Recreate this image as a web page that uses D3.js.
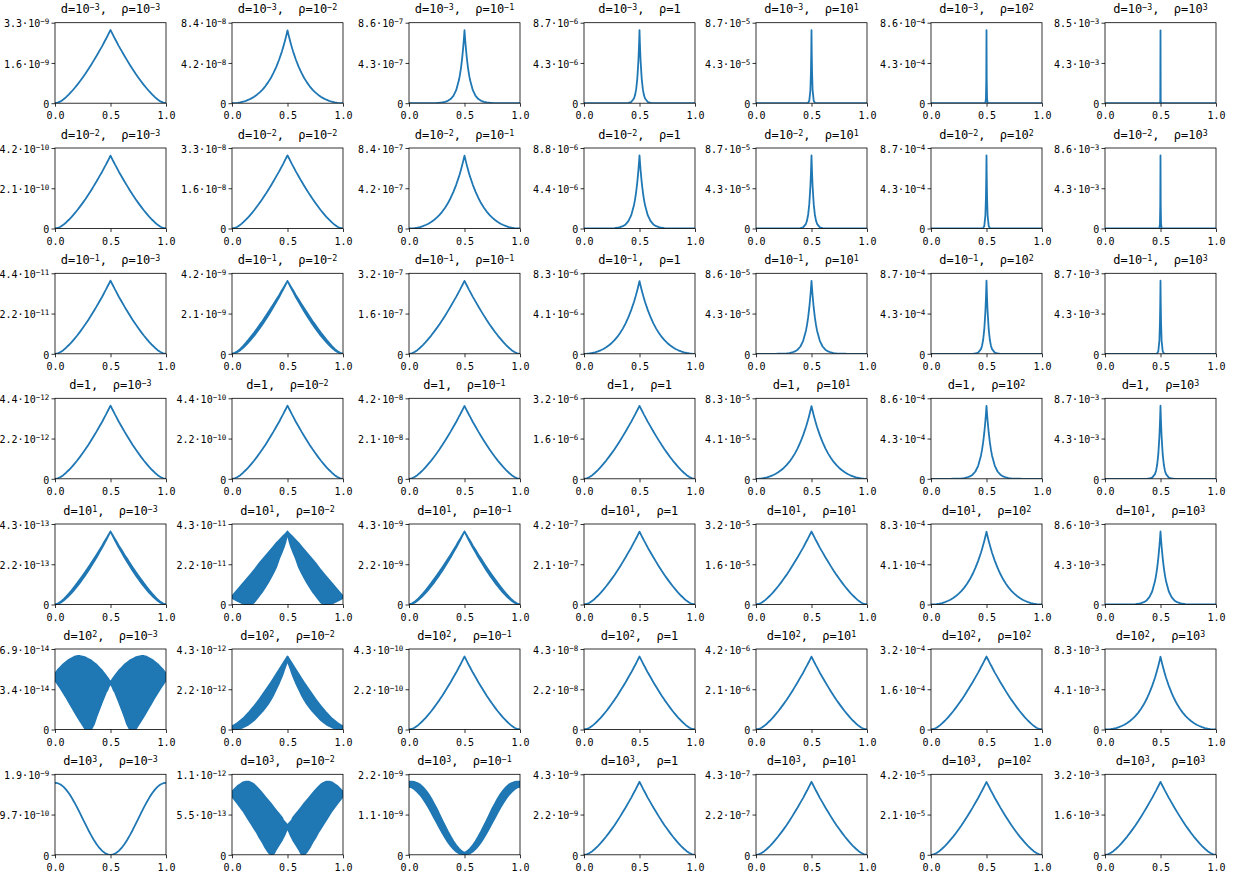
<!DOCTYPE html>
<html>
<head>
<meta charset="utf-8">
<script src="https://cdn.jsdelivr.net/npm/d3@7"></script>
<style>
  body { margin: 0; background: #fff; }
  svg text { font-family: "DejaVu Sans Mono", monospace; fill: #000; white-space: pre; }
</style>
</head>
<body>
<svg id="chart" width="1240" height="879"></svg>
<script>
// Row parameter d and column parameter rho ("^" marks the exponent)
const dLabels   = ["10^-3", "10^-2", "10^-1", "1", "10^1", "10^2", "10^3"];
const rhoLabels = ["10^-3", "10^-2", "10^-1", "1", "10^1", "10^2", "10^3"];

// Every profile is symmetric about x = 0.5; values are given at these distances from 0.5
const offsets = [0, 0.002, 0.005, 0.01, 0.02, 0.03, 0.04, 0.05, 0.075, 0.1, 0.125, 0.15, 0.175,
                 0.2, 0.225, 0.25, 0.275, 0.3, 0.325, 0.35, 0.375, 0.4, 0.425, 0.45, 0.475, 0.5];

// Profiles, as fractions of each panel's maximum
const cuspBroad = [1, 0.994, 0.985, 0.97, 0.94, 0.91, 0.88, 0.853, 0.78, 0.715, 0.648, 0.585, 0.523,
                   0.463, 0.406, 0.352, 0.30, 0.25, 0.204, 0.16, 0.12, 0.083, 0.05, 0.024, 0.007, 0];
const cuspMedium = [1, 0.987, 0.967, 0.935, 0.874, 0.817, 0.763, 0.712, 0.600, 0.503, 0.419, 0.346, 0.286,
                    0.232, 0.187, 0.149, 0.117, 0.089, 0.066, 0.048, 0.033, 0.020, 0.011, 0.005, 0.001, 0];
const peakNarrow = [1, 0.955, 0.891, 0.795, 0.631, 0.502, 0.399, 0.317, 0.178, 0.100, 0.056, 0.032, 0.018,
                    0.010, 0.006, 0.003, 0.002, 0.001, 0, 0, 0, 0, 0, 0, 0, 0];
const peakThin = [1, 0.896, 0.76, 0.577, 0.333, 0.192, 0.111, 0.064, 0.016, 0.004, 0, 0, 0,
                  0, 0, 0, 0, 0, 0, 0, 0, 0, 0, 0, 0, 0];
const spikeWide = [1, 0.71, 0.43, 0.18, 0.033, 0.006, 0, 0, 0, 0, 0, 0, 0,
                   0, 0, 0, 0, 0, 0, 0, 0, 0, 0, 0, 0, 0];
const spikeMid = [1, 0.33, 0.064, 0.004, 0, 0, 0, 0, 0, 0, 0, 0, 0,
                  0, 0, 0, 0, 0, 0, 0, 0, 0, 0, 0, 0, 0];
const spikeSharp = [1, 0.033, 0, 0, 0, 0, 0, 0, 0, 0, 0, 0, 0,
                    0, 0, 0, 0, 0, 0, 0, 0, 0, 0, 0, 0, 0];
const wave = [0, 0, 0.0002, 0.001, 0.004, 0.009, 0.016, 0.024, 0.054, 0.095, 0.146, 0.206, 0.273,
              0.345, 0.422, 0.5, 0.578, 0.655, 0.727, 0.794, 0.854, 0.905, 0.946, 0.976, 0.994, 1];

// Rapidly oscillating solutions: upper and lower envelopes
const cuspBandUpper = [1, 0.994, 0.987, 0.974, 0.948, 0.922, 0.896, 0.873, 0.805, 0.745, 0.683, 0.625, 0.566,
                       0.508, 0.451, 0.397, 0.345, 0.293, 0.244, 0.195, 0.15, 0.107, 0.068, 0.036, 0.013, 0.002];
const wideBandUpper = [1, 0.996, 0.99, 0.98, 0.965, 0.95, 0.935, 0.92, 0.88, 0.84, 0.795, 0.75, 0.705,
                       0.66, 0.615, 0.57, 0.52, 0.47, 0.425, 0.38, 0.335, 0.29, 0.245, 0.2, 0.155, 0.11];
const wideBandLower = [1, 0.98, 0.95, 0.91, 0.85, 0.80, 0.76, 0.72, 0.63, 0.52, 0.44, 0.37, 0.3,
                       0.24, 0.18, 0.13, 0.08, 0.03, 0, 0, 0, 0.01, 0.03, 0.05, 0.07, 0.09];
const thickBandUpper = [1, 0.995, 0.988, 0.976, 0.952, 0.928, 0.904, 0.88, 0.82, 0.76, 0.70, 0.64, 0.585,
                        0.53, 0.475, 0.42, 0.37, 0.32, 0.275, 0.23, 0.19, 0.15, 0.12, 0.09, 0.065, 0.045];
const thickBandLower = [0.95, 0.94, 0.93, 0.9, 0.86, 0.82, 0.77, 0.73, 0.64, 0.56, 0.48, 0.41, 0.35,
                        0.3, 0.25, 0.21, 0.17, 0.13, 0.1, 0.07, 0.05, 0.03, 0.015, 0.005, 0, 0];
const lobesUpper = [0.65, 0.652, 0.655, 0.665, 0.69, 0.71, 0.73, 0.75, 0.8, 0.84, 0.88, 0.91, 0.94,
                    0.96, 0.98, 0.99, 1.0, 1.0, 0.99, 0.97, 0.95, 0.92, 0.89, 0.85, 0.81, 0.76];
const lobesLower = [0.62, 0.615, 0.61, 0.6, 0.57, 0.53, 0.51, 0.47, 0.38, 0.28, 0.18, 0.07, 0,
                    0, 0, 0.06, 0.12, 0.18, 0.245, 0.31, 0.375, 0.44, 0.5, 0.56, 0.615, 0.67];
const wingsUpper = [0.41, 0.412, 0.415, 0.42, 0.44, 0.455, 0.475, 0.51, 0.555, 0.6, 0.65, 0.7, 0.745,
                    0.79, 0.835, 0.88, 0.92, 0.96, 0.985, 1.0, 1.0, 0.99, 0.965, 0.94, 0.9, 0.86];
const wingsLower = [0.36, 0.355, 0.35, 0.33, 0.295, 0.26, 0.23, 0.2, 0.14, 0.08, 0.01, 0, 0.04,
                    0.1, 0.17, 0.23, 0.3, 0.36, 0.42, 0.48, 0.54, 0.6, 0.65, 0.7, 0.75, 0.8];
const waveBandUpper = [0.03, 0.03, 0.032, 0.035, 0.045, 0.055, 0.07, 0.085, 0.13, 0.185, 0.25, 0.32, 0.395,
                       0.47, 0.55, 0.63, 0.7, 0.77, 0.83, 0.88, 0.925, 0.96, 0.98, 0.995, 1.0, 1.0];
const waveBandLower = [0, 0, 0, 0.001, 0.004, 0.008, 0.013, 0.02, 0.045, 0.08, 0.125, 0.175, 0.235,
                       0.3, 0.37, 0.44, 0.51, 0.58, 0.65, 0.71, 0.77, 0.82, 0.86, 0.895, 0.92, 0.93];

// Which profile each panel shows (rows: d, columns: rho)
const panelProfiles = [
  ["cuspBroad", "cuspMedium", "peakNarrow", "peakThin", "spikeWide", "spikeMid", "spikeSharp"],
  ["cuspBroad", "cuspBroad", "cuspMedium", "peakNarrow", "peakThin", "spikeWide", "spikeMid"],
  ["cuspBroad", "cuspBand", "cuspBroad", "cuspMedium", "peakNarrow", "peakThin", "spikeWide"],
  ["cuspBroad", "cuspBroad", "cuspBroad", "cuspBroad", "cuspMedium", "peakNarrow", "peakThin"],
  ["cuspBand", "wideBand", "cuspBand", "cuspBroad", "cuspBroad", "cuspMedium", "peakNarrow"],
  ["lobes", "thickBand", "cuspBroad", "cuspBroad", "cuspBroad", "cuspBroad", "cuspMedium"],
  ["wave", "wings", "waveBand", "cuspBroad", "cuspBroad", "cuspBroad", "cuspBroad"]
];

// Maximum of each panel's solution
const peakValues = [
  [3.0e-9, 7.6e-8, 7.8e-7, 7.9e-6, 7.9e-5, 7.8e-4, 7.7e-3],
  [3.8e-10, 3.0e-8, 7.6e-7, 8.0e-6, 7.9e-5, 7.9e-4, 7.8e-3],
  [4.0e-11, 3.8e-9, 2.9e-7, 7.5e-6, 7.8e-5, 7.9e-4, 7.9e-3],
  [4.0e-12, 4.0e-10, 3.8e-8, 2.9e-6, 7.5e-5, 7.8e-4, 7.9e-3],
  [3.9e-13, 3.9e-11, 3.9e-9, 3.8e-7, 2.9e-5, 7.5e-4, 7.8e-3],
  [6.3e-14, 3.9e-12, 3.9e-10, 3.9e-8, 3.8e-6, 2.9e-4, 7.5e-3],
  [1.7e-9, 1.0e-12, 2.0e-9, 3.9e-9, 3.9e-7, 3.8e-5, 2.9e-3]
];

// Upper y limit of each panel
const yLimits = [
  [3.3e-9, 8.4e-8, 8.6e-7, 8.7e-6, 8.7e-5, 8.6e-4, 8.5e-3],
  [4.2e-10, 3.3e-8, 8.4e-7, 8.8e-6, 8.7e-5, 8.7e-4, 8.6e-3],
  [4.4e-11, 4.2e-9, 3.2e-7, 8.3e-6, 8.6e-5, 8.7e-4, 8.7e-3],
  [4.4e-12, 4.4e-10, 4.2e-8, 3.2e-6, 8.3e-5, 8.6e-4, 8.7e-3],
  [4.3e-13, 4.3e-11, 4.3e-9, 4.2e-7, 3.2e-5, 8.3e-4, 8.6e-3],
  [6.9e-14, 4.3e-12, 4.3e-10, 4.3e-8, 4.2e-6, 3.2e-4, 8.3e-3],
  [1.9e-9, 1.1e-12, 2.2e-9, 4.3e-9, 4.3e-7, 4.2e-5, 3.2e-3]
];

// Labels of the middle y tick
const midTickLabels = [
  ["1.6·10^-9", "4.2·10^-8", "4.3·10^-7", "4.3·10^-6", "4.3·10^-5", "4.3·10^-4", "4.3·10^-3"],
  ["2.1·10^-10", "1.6·10^-8", "4.2·10^-7", "4.4·10^-6", "4.3·10^-5", "4.3·10^-4", "4.3·10^-3"],
  ["2.2·10^-11", "2.1·10^-9", "1.6·10^-7", "4.1·10^-6", "4.3·10^-5", "4.3·10^-4", "4.3·10^-3"],
  ["2.2·10^-12", "2.2·10^-10", "2.1·10^-8", "1.6·10^-6", "4.1·10^-5", "4.3·10^-4", "4.3·10^-3"],
  ["2.2·10^-13", "2.2·10^-11", "2.2·10^-9", "2.1·10^-7", "1.6·10^-5", "4.1·10^-4", "4.3·10^-3"],
  ["3.4·10^-14", "2.2·10^-12", "2.2·10^-10", "2.2·10^-8", "2.1·10^-6", "1.6·10^-4", "4.1·10^-3"],
  ["9.7·10^-10", "5.5·10^-13", "1.1·10^-9", "2.2·10^-9", "2.2·10^-7", "2.1·10^-5", "1.6·10^-3"]
];

const xTickValues = [0, 0.5, 1];

// ---- lookup of the profile arrays ----
const lines = { cuspBroad, cuspMedium, peakNarrow, peakThin, spikeWide, spikeMid, spikeSharp, wave };
const bands = {
  cuspBand:  [cuspBroad, cuspBandUpper],
  wideBand:  [wideBandLower, wideBandUpper],
  thickBand: [thickBandLower, thickBandUpper],
  lobes:     [lobesLower, lobesUpper],
  wings:     [wingsLower, wingsUpper],
  waveBand:  [waveBandLower, waveBandUpper]
};

// ---- layout ----
const colLeft = [55, 232, 409, 584, 756, 931, 1105];
const rowTop = [22.7, 148, 273.3, 398.3, 524, 649, 774.3];
const W = 111, H = 80.5;
const blue = "#1f77b4";

const svg = d3.select("#chart");

function splitPower(label) {
  const m = label.match(/^(.*)\^(.*)$/);
  return m ? [m[1], m[2].replace("-", "\u2212")] : [label, null];
}

// Full set of sample points across [0, 1] from a half profile
function samples(lowerArr, upperArr) {
  const leftHalf = offsets.map((s, i) => ({ x: 0.5 - s, lo: lowerArr[i], hi: upperArr[i] })).reverse();
  const rightHalf = offsets.slice(1).map((s, i) => ({ x: 0.5 + s, lo: lowerArr[i + 1], hi: upperArr[i + 1] }));
  return leftHalf.concat(rightHalf);
}

for (let r = 0; r < 7; r++) {
  for (let c = 0; c < 7; c++) {
    const left = colLeft[c], top = rowTop[r];
    const x = d3.scaleLinear().domain([0, 1]).range([left, left + W]);
    const y = d3.scaleLinear().domain([0, yLimits[r][c]]).range([top + H, top]);
    const peak = peakValues[r][c];
    const g = svg.append("g");
    const clipId = `clip-${r}-${c}`;
    g.append("clipPath").attr("id", clipId)
      .append("rect").attr("x", left).attr("y", top).attr("width", W).attr("height", H);

    const name = panelProfiles[r][c];
    const plot = g.append("g").attr("clip-path", `url(#${clipId})`);
    if (lines[name]) {
      const pts = samples(lines[name], lines[name]);
      plot.append("path")
        .attr("d", d3.line().x(d => x(d.x)).y(d => y(d.hi * peak))(pts))
        .attr("fill", "none").attr("stroke", blue).attr("stroke-width", 1.8)
        .attr("stroke-linejoin", "round");
    } else {
      const [lo, hi] = bands[name];
      const pts = samples(lo, hi);
      plot.append("path")
        .attr("d", d3.area().x(d => x(d.x)).y0(d => y(d.lo * peak)).y1(d => y(d.hi * peak))(pts))
        .attr("fill", blue).attr("stroke", blue).attr("stroke-width", 1.8)
        .attr("stroke-linejoin", "round");
    }

    // x axis
    const xAxis = g.append("g").attr("transform", `translate(0,${top + H})`)
      .call(d3.axisBottom(x).tickValues(xTickValues).tickFormat(d3.format(".1f"))
        .tickSize(3.5).tickSizeOuter(0).tickPadding(5.4));
    // y axis
    const yTop = yLimits[r][c];
    const yLabels = ["0", midTickLabels[r][c], (() => {
      const e = Math.floor(Math.log10(yTop) + 1e-9);
      return (yTop / Math.pow(10, e)).toFixed(1) + "·10^" + e;
    })()];
    const yAxis = g.append("g").attr("transform", `translate(${left},0)`)
      .call(d3.axisLeft(y).tickValues([0, yTop / 2, yTop]).tickFormat((d, i) => yLabels[i])
        .tickSize(3.5).tickSizeOuter(0).tickPadding(2.3));
    [xAxis, yAxis].forEach(a => {
      a.attr("font-family", null).attr("font-size", null);
      a.select(".domain").remove();
      a.selectAll(".tick line").attr("stroke", "#000").attr("stroke-width", 0.8);
      a.selectAll(".tick text").attr("font-size", 10).attr("fill", "#000");
    });
    yAxis.selectAll(".tick text").attr("dy", "0.42em").each(function () {
      const t = d3.select(this);
      const [base, exp] = splitPower(t.text());
      t.text(null);
      t.append("tspan").text(base);
      if (exp !== null) t.append("tspan").attr("font-size", 7.5).attr("dy", -3).text(exp);
    });

    // frame
    g.append("rect").attr("x", left).attr("y", top).attr("width", W).attr("height", H)
      .attr("fill", "none").attr("stroke", "#000").attr("stroke-width", 0.8);

    // title
    const title = g.append("text").attr("x", left + W / 2).attr("y", top - 9.4)
      .attr("text-anchor", "middle").attr("font-size", 12);
    const [dBase, dExp] = splitPower(dLabels[r]);
    const [rBase, rExp] = splitPower(rhoLabels[c]);
    title.append("tspan").text("d=" + dBase);
    let shifted = false;
    if (dExp !== null) { title.append("tspan").attr("font-size", 8.3).attr("dy", -3).text(dExp); shifted = true; }
    title.append("tspan").attr("dy", shifted ? 3 : null).text(",  \u03c1=" + rBase);
    if (rExp !== null) title.append("tspan").attr("font-size", 8.3).attr("dy", -3).text(rExp);
  }
}
</script>
</body>
</html>
